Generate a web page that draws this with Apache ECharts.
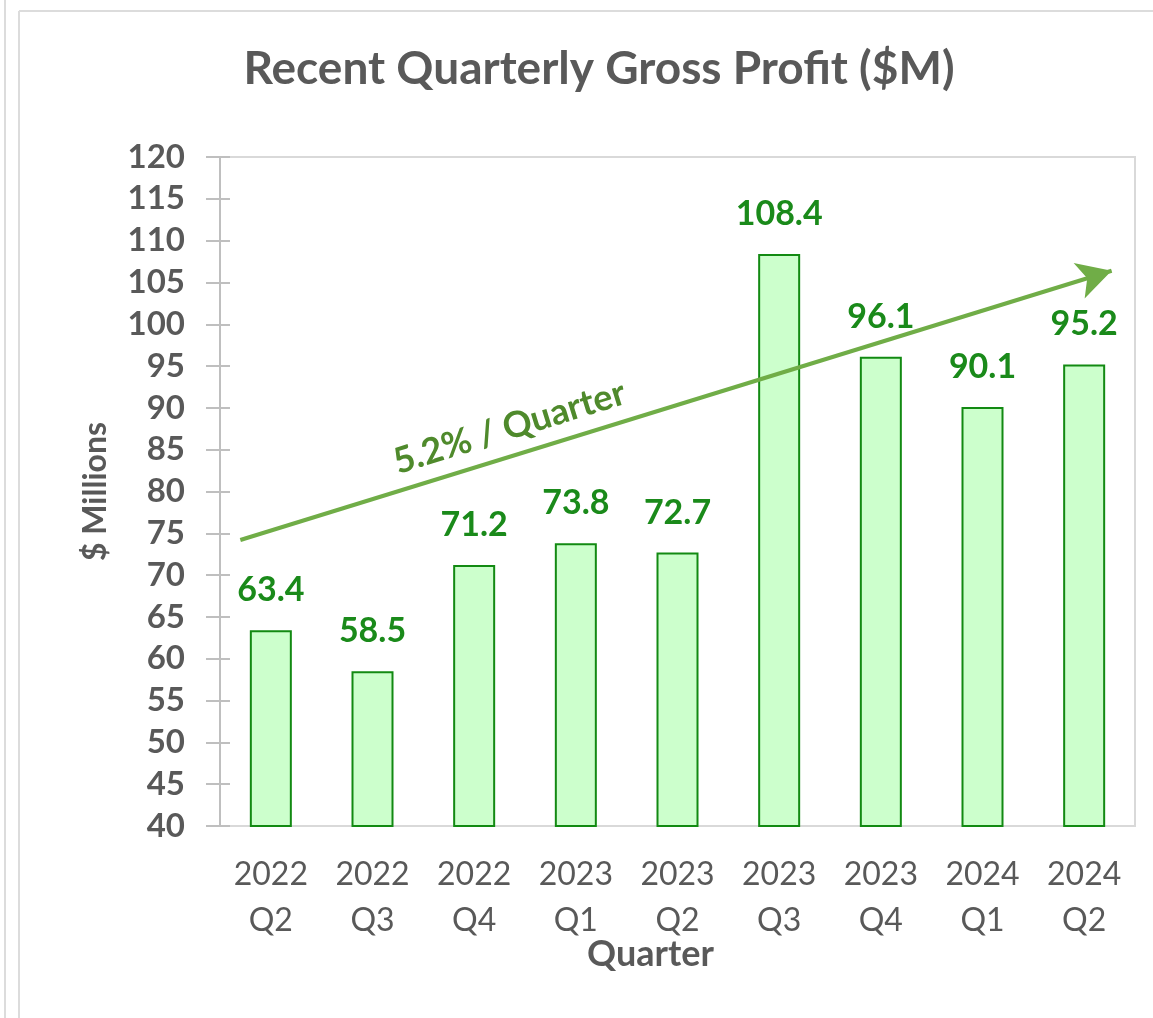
<!DOCTYPE html>
<html>
<head>
<meta charset="utf-8">
<script src="https://cdn.jsdelivr.net/npm/echarts@6/dist/echarts.min.js"></script>
<style>
  html, body { margin: 0; padding: 0; background: #ffffff; }
  #chart { width: 1153px; height: 1018px; }
</style>
</head>
<body>
<div id="chart"></div>
<script>
// ---- data ----
const categories = ['2022\nQ2', '2022\nQ3', '2022\nQ4', '2023\nQ1', '2023\nQ2', '2023\nQ3', '2023\nQ4', '2024\nQ1', '2024\nQ2'];
const grossProfit = [63.4, 58.5, 71.2, 73.8, 72.7, 108.4, 96.1, 90.1, 95.2];
const yTicks = [40, 45, 50, 55, 60, 65, 70, 75, 80, 85, 90, 95, 100, 105, 110, 115, 120];
// trend arrow endpoints: [category position, $M]
const trendStart = [-0.30, 74.2];
const trendEnd = [8.27, 106.4];
const trendLabel = '5.2% / Quarter';

const FONT = 'Lato';
const GREY = '#595959';

const chart = echarts.init(document.getElementById('chart'), null, { renderer: 'canvas' });

const yMin = yTicks[0], yMax = yTicks[yTicks.length - 1], yStep = yTicks[1] - yTicks[0];

chart.setOption({
  backgroundColor: '#ffffff',
  animation: false,
  title: {
    text: 'Recent Quarterly Gross Profit ($M)',
    left: 594,
    textAlign: 'center',
    top: 41,
    textStyle: { fontFamily: FONT, fontSize: 46, fontWeight: 'bold', color: GREY }
  },
  grid: {
    left: 220, right: 18, top: 157, bottom: 192,
    show: true, borderColor: '#d9d9d9', borderWidth: 2, backgroundColor: 'transparent'
  },
  xAxis: [{
    type: 'category',
    data: categories,
    boundaryGap: true,
    axisLine: { show: true, onZero: false, lineStyle: { color: '#d9d9d9', width: 2 } },
    axisTick: { show: false },
    axisLabel: {
      fontFamily: FONT, fontSize: 32, color: GREY, lineHeight: 46, margin: 26, interval: 0
    },
    name: 'Quarter',
    nameLocation: 'middle',
    nameGap: 110,
    nameMoveOverlap: false,
    nameTextStyle: { fontFamily: FONT, fontSize: 36, fontWeight: 'bold', color: GREY, padding: [0, 54, 0, 0] }
  }, {
    type: 'value',
    min: -0.5, max: categories.length - 0.5,
    show: false
  }],
  yAxis: [{
    type: 'value',
    min: yMin, max: yMax, interval: yStep,
    axisLine: { show: true, onZero: false, lineStyle: { color: '#bfbfbf', width: 2 } },
    axisTick: { show: true, length: 14, lineStyle: { color: '#bfbfbf', width: 2 } },
    splitLine: { show: false },
    axisLabel: { fontFamily: FONT, fontSize: 33, fontWeight: 'bold', color: GREY, margin: 35 },
    name: '$ Millions',
    nameLocation: 'middle',
    nameGap: 108,
    nameMoveOverlap: false,
    nameTextStyle: { fontFamily: FONT, fontSize: 32, fontWeight: 'bold', color: GREY }
  }, {
    type: 'value',
    min: yMin, max: yMax, interval: yStep,
    position: 'left',
    axisLine: { show: false, onZero: false },
    axisTick: { show: true, inside: true, length: 10, lineStyle: { color: '#bfbfbf', width: 2 } },
    axisLabel: { show: false },
    splitLine: { show: false }
  }],
  series: [{
    type: 'bar',
    name: 'Gross Profit',
    data: grossProfit,
    xAxisIndex: 0, yAxisIndex: 0,
    barWidth: 42,
    itemStyle: { color: '#ccffcc', borderColor: '#128a12', borderWidth: 2 },
    label: {
      show: true, position: 'top', distance: 23,
      fontFamily: FONT, fontSize: 34, fontWeight: 'bold', color: '#1a8a1a',
      formatter: p => p.value.toFixed(1)
    },
    z: 2
  }, {
    type: 'line',
    name: 'Trend',
    xAxisIndex: 1, yAxisIndex: 0,
    data: [],
    silent: true,
    markLine: {
      silent: true,
      symbol: ['none', 'arrow'],
      symbolSize: [28, 34],
      lineStyle: { color: '#70ad47', width: 4, type: 'solid' },
      label: {
        show: true,
        position: 'insideStartTop',
        distance: [170, 10],
        formatter: trendLabel,
        fontFamily: FONT, fontSize: 36, fontWeight: 'bold', color: '#4f8a2c'
      },
      data: [[
        { coord: trendStart },
        { coord: trendEnd }
      ]]
    },
    z: 5
  }],
  graphic: [
    { type: 'line', shape: { x1: 5, y1: 0, x2: 5, y2: 1018 }, style: { stroke: '#dcdcdc', lineWidth: 2 }, silent: true },
    { type: 'line', shape: { x1: 19, y1: 11, x2: 19, y2: 1018 }, style: { stroke: '#dcdcdc', lineWidth: 2 }, silent: true },
    { type: 'line', shape: { x1: 19, y1: 11, x2: 1153, y2: 11 }, style: { stroke: '#dcdcdc', lineWidth: 2 }, silent: true }
  ]
});
</script>
</body>
</html>
